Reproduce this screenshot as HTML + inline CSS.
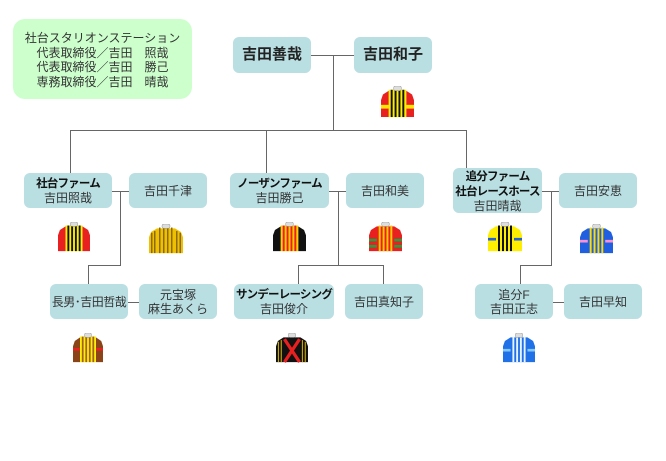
<!DOCTYPE html>
<html><head><meta charset="utf-8"><style>
body{margin:0;background:#fff;width:666px;height:461px;position:relative;overflow:hidden;font-family:"Liberation Sans","Noto Sans CJK JP",sans-serif;}
.b{position:absolute;background:#b9dfe3;border-radius:6px;display:flex;align-items:center;justify-content:center;text-align:center;font-size:12px;line-height:14px;color:#333;white-space:nowrap;}
.b b{letter-spacing:-0.8px;color:#111;font-size:11.5px}
.l{position:absolute;background:#666;}
svg{position:absolute;}
</style></head><body>
<div style="position:absolute;left:13px;top:19px;width:179px;height:80px;background:#ccffcc;border-radius:12px;font-size:12px;line-height:14.5px;color:#333;text-align:center;padding-top:12px;box-sizing:border-box;">社台スタリオンステーション<br>代表取締役／吉田　照哉<br>代表取締役／吉田　勝己<br>専務取締役／吉田　晴哉</div>

<!-- lines -->
<div class="l" style="left:311px;top:55px;width:43px;height:1px"></div>
<div class="l" style="left:333px;top:55px;width:1px;height:75px"></div>
<div class="l" style="left:70px;top:130px;width:397px;height:1px"></div>
<div class="l" style="left:70px;top:130px;width:1px;height:43px"></div>
<div class="l" style="left:266px;top:130px;width:1px;height:43px"></div>
<div class="l" style="left:466px;top:130px;width:1px;height:38px"></div>
<div class="l" style="left:112px;top:191px;width:17px;height:1px"></div>
<div class="l" style="left:120px;top:191px;width:1px;height:74px"></div>
<div class="l" style="left:88px;top:265px;width:33px;height:1px"></div>
<div class="l" style="left:88px;top:265px;width:1px;height:19px"></div>
<div class="l" style="left:329px;top:191px;width:17px;height:1px"></div>
<div class="l" style="left:338px;top:191px;width:1px;height:74px"></div>
<div class="l" style="left:298px;top:265px;width:85px;height:1px"></div>
<div class="l" style="left:298px;top:265px;width:1px;height:19px"></div>
<div class="l" style="left:383px;top:265px;width:1px;height:19px"></div>
<div class="l" style="left:542px;top:191px;width:17px;height:1px"></div>
<div class="l" style="left:551px;top:191px;width:1px;height:74px"></div>
<div class="l" style="left:520px;top:265px;width:32px;height:1px"></div>
<div class="l" style="left:520px;top:265px;width:1px;height:19px"></div>
<div class="l" style="left:128px;top:302px;width:11px;height:1px"></div>
<div class="l" style="left:553px;top:302px;width:11px;height:1px"></div>

<!-- boxes -->
<div class="b" style="left:233px;top:37px;width:78px;height:36px;font-size:15px;font-weight:bold;color:#222">吉田善哉</div>
<div class="b" style="left:354px;top:37px;width:78px;height:36px;font-size:15px;font-weight:bold;color:#222">吉田和子</div>
<div class="b" style="left:24px;top:173px;width:88px;height:35px"><div><b>社台ファーム</b><br>吉田照哉</div></div>
<div class="b" style="left:129px;top:173px;width:78px;height:35px">吉田千津</div>
<div class="b" style="left:230px;top:173px;width:99px;height:35px"><div><b>ノーザンファーム</b><br>吉田勝己</div></div>
<div class="b" style="left:346px;top:173px;width:78px;height:35px">吉田和美</div>
<div class="b" style="left:453px;top:168px;width:89px;height:45px"><div><b>追分ファーム<br>社台レースホース</b><br>吉田晴哉</div></div>
<div class="b" style="left:559px;top:173px;width:78px;height:35px">吉田安恵</div>
<div class="b" style="left:50px;top:284px;width:78px;height:35px;letter-spacing:-0.5px">長男･吉田哲哉</div>
<div class="b" style="left:139px;top:284px;width:78px;height:35px"><div>元宝塚<br>麻生あくら</div></div>
<div class="b" style="left:234px;top:284px;width:100px;height:35px"><div><b>サンデーレーシング</b><br>吉田俊介</div></div>
<div class="b" style="left:345px;top:284px;width:78px;height:35px">吉田真知子</div>
<div class="b" style="left:475px;top:284px;width:78px;height:35px"><div>追分F<br>吉田正志</div></div>
<div class="b" style="left:564px;top:284px;width:78px;height:35px">吉田早知</div>

<!-- silks -->
<svg style="left:381px;top:86px" width="33" height="32" viewBox="0 0 34 34" preserveAspectRatio="none">
<path d="M8 5 L2 9 L0 15 L0 33 L8 33Z M26 5 L32 9 L34 15 L34 33 L26 33Z" fill="#e82020"/>
<rect x="0" y="20" width="8" height="4" fill="#ffe800"/><rect x="26" y="20" width="8" height="4" fill="#ffe800"/>
<rect x="8" y="4" width="18" height="29" fill="#ffee00"/>
<g fill="#111"><rect x="10" y="4" width="2" height="29"/><rect x="14" y="4" width="2" height="29"/><rect x="18" y="4" width="2" height="29"/><rect x="22" y="4" width="2" height="29"/></g>
<rect x="13" y="0" width="8" height="5" rx="2" fill="#ddd" stroke="#888" stroke-width=".5"/></svg>
<svg style="left:58px;top:222px" width="32" height="30" viewBox="0 0 34 34" preserveAspectRatio="none">
<path d="M8 5 L2 9 L0 15 L0 33 L8 33Z M26 5 L32 9 L34 15 L34 33 L26 33Z" fill="#e82020"/>
<rect x="8" y="4" width="18" height="29" fill="#ffee00"/>
<g fill="#111"><rect x="10" y="4" width="2" height="29"/><rect x="14" y="4" width="2" height="29"/><rect x="18" y="4" width="2" height="29"/><rect x="22" y="4" width="2" height="29"/></g>
<rect x="13" y="0" width="8" height="5" rx="2" fill="#ddd" stroke="#888" stroke-width=".5"/></svg>
<svg style="left:149px;top:224px" width="34" height="30" viewBox="0 0 34 34" preserveAspectRatio="none">
<path d="M8 5 L2 9 L0 15 L0 33 L34 33 L34 15 L32 9 L26 5Z" fill="#f0c000"/>
<g fill="#8a6a10"><rect x="2" y="10" width="1.5" height="23"/><rect x="5" y="8" width="1.5" height="25"/><rect x="10" y="4" width="1.5" height="29"/><rect x="14" y="4" width="1.5" height="29"/><rect x="18" y="4" width="1.5" height="29"/><rect x="22" y="4" width="1.5" height="29"/><rect x="27" y="8" width="1.5" height="25"/><rect x="30.5" y="10" width="1.5" height="23"/></g>
<rect x="13" y="0" width="8" height="5" rx="2" fill="#ddd" stroke="#888" stroke-width=".5"/></svg>
<svg style="left:273px;top:222px" width="33" height="30" viewBox="0 0 34 34" preserveAspectRatio="none">
<path d="M8 5 L2 9 L0 15 L0 33 L8 33Z M26 5 L32 9 L34 15 L34 33 L26 33Z" fill="#111"/>
<rect x="8" y="4" width="18" height="29" fill="#ffcc00"/>
<g fill="#e82020"><rect x="10" y="4" width="2" height="29"/><rect x="14" y="4" width="2" height="29"/><rect x="18" y="4" width="2" height="29"/><rect x="22" y="4" width="2" height="29"/></g>
<rect x="13" y="0" width="8" height="5" rx="2" fill="#ddd" stroke="#888" stroke-width=".5"/></svg>
<svg style="left:369px;top:222px" width="33" height="30" viewBox="0 0 34 34" preserveAspectRatio="none">
<path d="M8 5 L2 9 L0 15 L0 33 L34 33 L34 15 L32 9 L26 5Z" fill="#e82020"/>
<g fill="#ffcc00"><rect x="10" y="4" width="2" height="29"/><rect x="14" y="4" width="2" height="29"/><rect x="18" y="4" width="2" height="29"/><rect x="22" y="4" width="2" height="29"/></g>
<g fill="#20a040"><rect x="0" y="19" width="8" height="3"/><rect x="0" y="26" width="8" height="3"/><rect x="26" y="19" width="8" height="3"/><rect x="26" y="26" width="8" height="3"/></g>
<rect x="13" y="0" width="8" height="5" rx="2" fill="#ddd" stroke="#888" stroke-width=".5"/></svg>
<svg style="left:488px;top:222px" width="34" height="30" viewBox="0 0 34 34" preserveAspectRatio="none">
<path d="M8 5 L2 9 L0 15 L0 33 L34 33 L34 15 L32 9 L26 5Z" fill="#ffee00"/>
<g fill="#111"><rect x="10" y="4" width="2" height="29"/><rect x="14" y="4" width="2" height="29"/><rect x="18" y="4" width="2" height="29"/><rect x="22" y="4" width="2" height="29"/></g>
<rect x="0" y="18" width="8" height="3" fill="#2060e0"/><rect x="26" y="18" width="8" height="3" fill="#2060e0"/>
<rect x="13" y="0" width="8" height="5" rx="2" fill="#ddd" stroke="#888" stroke-width=".5"/></svg>
<svg style="left:580px;top:224px" width="33" height="30" viewBox="0 0 34 34" preserveAspectRatio="none">
<path d="M8 5 L2 9 L0 15 L0 33 L34 33 L34 15 L32 9 L26 5Z" fill="#2060e0"/>
<g fill="#ffdd00"><rect x="10" y="4" width="2" height="29"/><rect x="14" y="4" width="2" height="29"/><rect x="18" y="4" width="2" height="29"/><rect x="22" y="4" width="2" height="29"/></g>
<rect x="0" y="18" width="8" height="3" fill="#ff90d0"/><rect x="26" y="18" width="8" height="3" fill="#ff90d0"/>
<rect x="13" y="0" width="8" height="5" rx="2" fill="#ddd" stroke="#888" stroke-width=".5"/></svg>
<svg style="left:73px;top:333px" width="30" height="30" viewBox="0 0 34 34" preserveAspectRatio="none">
<path d="M8 5 L2 9 L0 15 L0 33 L8 33Z M26 5 L32 9 L34 15 L34 33 L26 33Z" fill="#8a4418"/>
<rect x="0" y="17" width="8" height="3" fill="#e82020"/><rect x="26" y="17" width="8" height="3" fill="#e82020"/>
<rect x="8" y="4" width="18" height="29" fill="#ffee00"/>
<g fill="#a06020"><rect x="10" y="4" width="2" height="29"/><rect x="14" y="4" width="2" height="29"/><rect x="18" y="4" width="2" height="29"/><rect x="22" y="4" width="2" height="29"/></g>
<rect x="13" y="0" width="8" height="5" rx="2" fill="#ddd" stroke="#888" stroke-width=".5"/></svg>
<svg style="left:276px;top:333px" width="32" height="30" viewBox="0 0 34 34" preserveAspectRatio="none">
<path d="M8 5 L2 9 L0 15 L0 33 L34 33 L34 15 L32 9 L26 5Z" fill="#111"/>
<g fill="#c8a800"><rect x="2" y="10" width="1.2" height="23"/><rect x="5" y="8" width="1.2" height="25"/><rect x="27.5" y="8" width="1.2" height="25"/><rect x="30.5" y="10" width="1.2" height="23"/></g>
<path d="M9 7 L25 33 M25 7 L9 33" stroke="#e82020" stroke-width="3.5"/>
<rect x="13" y="0" width="8" height="5" rx="2" fill="#ddd" stroke="#888" stroke-width=".5"/></svg>
<svg style="left:503px;top:333px" width="32" height="30" viewBox="0 0 34 34" preserveAspectRatio="none">
<path d="M8 5 L2 9 L0 15 L0 33 L34 33 L34 15 L32 9 L26 5Z" fill="#2070e8"/>
<g fill="#e8f4ff"><rect x="10" y="4" width="2" height="29"/><rect x="14" y="4" width="2" height="29"/><rect x="18" y="4" width="2" height="29"/><rect x="22" y="4" width="2" height="29"/></g>
<rect x="0" y="18" width="8" height="3" fill="#80c8ff"/><rect x="26" y="18" width="8" height="3" fill="#80c8ff"/>
<rect x="13" y="0" width="8" height="5" rx="2" fill="#ddd" stroke="#888" stroke-width=".5"/></svg>
</body></html>
